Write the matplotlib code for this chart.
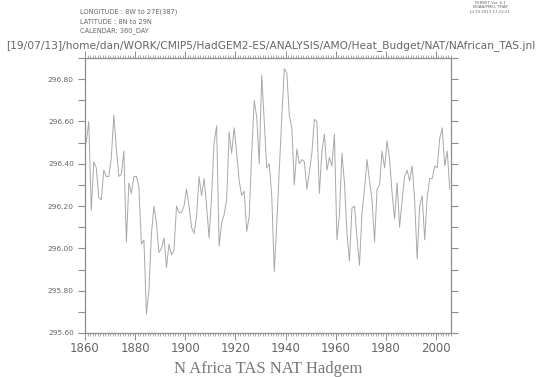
import numpy as np
import matplotlib
matplotlib.use("Agg")
import matplotlib.pyplot as plt
from matplotlib.ticker import MultipleLocator, FormatStrFormatter

# Annual mean N Africa surface air temperature (K), 1860-2005
years = np.arange(1860, 2006)
tas = [
    # 1860-1883
    296.50, 296.60, 296.18, 296.41, 296.38, 296.24, 296.23, 296.37, 296.34, 296.34,
    296.43, 296.63, 296.47, 296.34, 296.35, 296.46, 296.03, 296.31, 296.26, 296.34,
    296.34, 296.29, 296.02, 296.04,
    # 1884-1899
    295.69, 295.80, 296.07, 296.20, 296.12, 295.98, 296.00, 296.05, 295.91, 296.02,
    295.97, 295.99, 296.20, 296.17, 296.17, 296.20,
    # 1900-1934
    296.28, 296.20, 296.10, 296.07, 296.15, 296.34, 296.25, 296.33, 296.20, 296.05,
    296.25, 296.50, 296.58, 296.01, 296.12, 296.16, 296.23, 296.55, 296.45, 296.57,
    296.45, 296.32, 296.25, 296.27, 296.08, 296.15, 296.45, 296.70, 296.62, 296.40,
    296.82, 296.60, 296.38, 296.40, 296.25,
    # 1935-2005
    295.89, 296.12, 296.37, 296.62, 296.85, 296.83, 296.63, 296.57, 296.30, 296.47,
    296.40, 296.42, 296.41, 296.28, 296.36, 296.45, 296.61, 296.60, 296.26, 296.46,
    296.54, 296.37, 296.43, 296.39, 296.54, 296.04, 296.16, 296.45, 296.31, 296.07,
    295.94, 296.19, 296.20, 296.05, 295.92, 296.17, 296.28, 296.42, 296.32, 296.23,
    296.03, 296.28, 296.30, 296.46, 296.38, 296.51, 296.42, 296.26, 296.14, 296.31,
    296.10, 296.23, 296.34, 296.37, 296.32, 296.39, 296.23, 295.95, 296.20, 296.25,
    296.04, 296.24, 296.33, 296.33, 296.39, 296.38, 296.52, 296.57, 296.39, 296.46,
    296.28,
]

header_lines = ["LONGITUDE : 8W to 27E(387)", "LATITUDE : 8N to 29N", "CALENDAR: 360_DAY"]
ferret_lines = ["FERRET Ver. 6.1", "NOAA/PMEL TMAP", "Jul 19 2013 17:12:31"]
jnl_path = "[19/07/13]/home/dan/WORK/CMIP5/HadGEM2-ES/ANALYSIS/AMO/Heat_Budget/NAT/NAfrican_TAS.jnl"
title = "N Africa TAS NAT Hadgem"

text_col = "#666666"
axis_col = "#8c8c8c"

fig = plt.figure(figsize=(5.41, 3.77), dpi=100)
ax = fig.add_axes([85 / 541, 44 / 377, 366 / 541, 275 / 377])

# data points sit at mid-year (360_DAY calendar annual means)
ax.plot(years + 0.5, tas, color="#a8a8a8", lw=0.7)

ax.set_xlim(1860, 2006)
ax.set_ylim(295.6, 296.9)

ax.xaxis.set_major_locator(MultipleLocator(20))
ax.xaxis.set_minor_locator(MultipleLocator(1))
ax.yaxis.set_major_locator(MultipleLocator(0.2))
ax.yaxis.set_minor_locator(MultipleLocator(0.1))
ax.yaxis.set_major_formatter(FormatStrFormatter("%.2f"))

for s in ax.spines.values():
    s.set_color(axis_col)
    s.set_linewidth(0.9)

ax.tick_params(axis="x", which="major", direction="out", length=5, width=0.7,
               colors=axis_col, labelcolor=text_col, labelsize=8.5, top=True, pad=1.5)
ax.tick_params(axis="x", which="minor", direction="out", length=2.5, width=0.5,
               colors=axis_col, top=True)
ax.tick_params(axis="y", which="both", direction="out", length=5, width=0.8,
               colors=axis_col, labelcolor=text_col, labelsize=5.3, right=True, pad=3)

# header annotations
for k, line in enumerate(header_lines):
    fig.text(80 / 541, 1 - (12 + 9.5 * k) / 377, line, fontsize=4.8, color=text_col,
             va="center", ha="left")
for k, line in enumerate(ferret_lines):
    fig.text(490 / 541, 1 - (3 + 4.5 * k) / 377, line, fontsize=2.8, color=text_col,
             va="center", ha="center")
fig.text(0.5, 1 - 46 / 377, jnl_path, fontsize=7.7, color=text_col, va="center", ha="center")

fig.text(268 / 541, 1 - 369 / 377, title, fontsize=12, color="#777777",
         family="Liberation Serif", va="center", ha="center")

fig.savefig("out.png", dpi=100)
